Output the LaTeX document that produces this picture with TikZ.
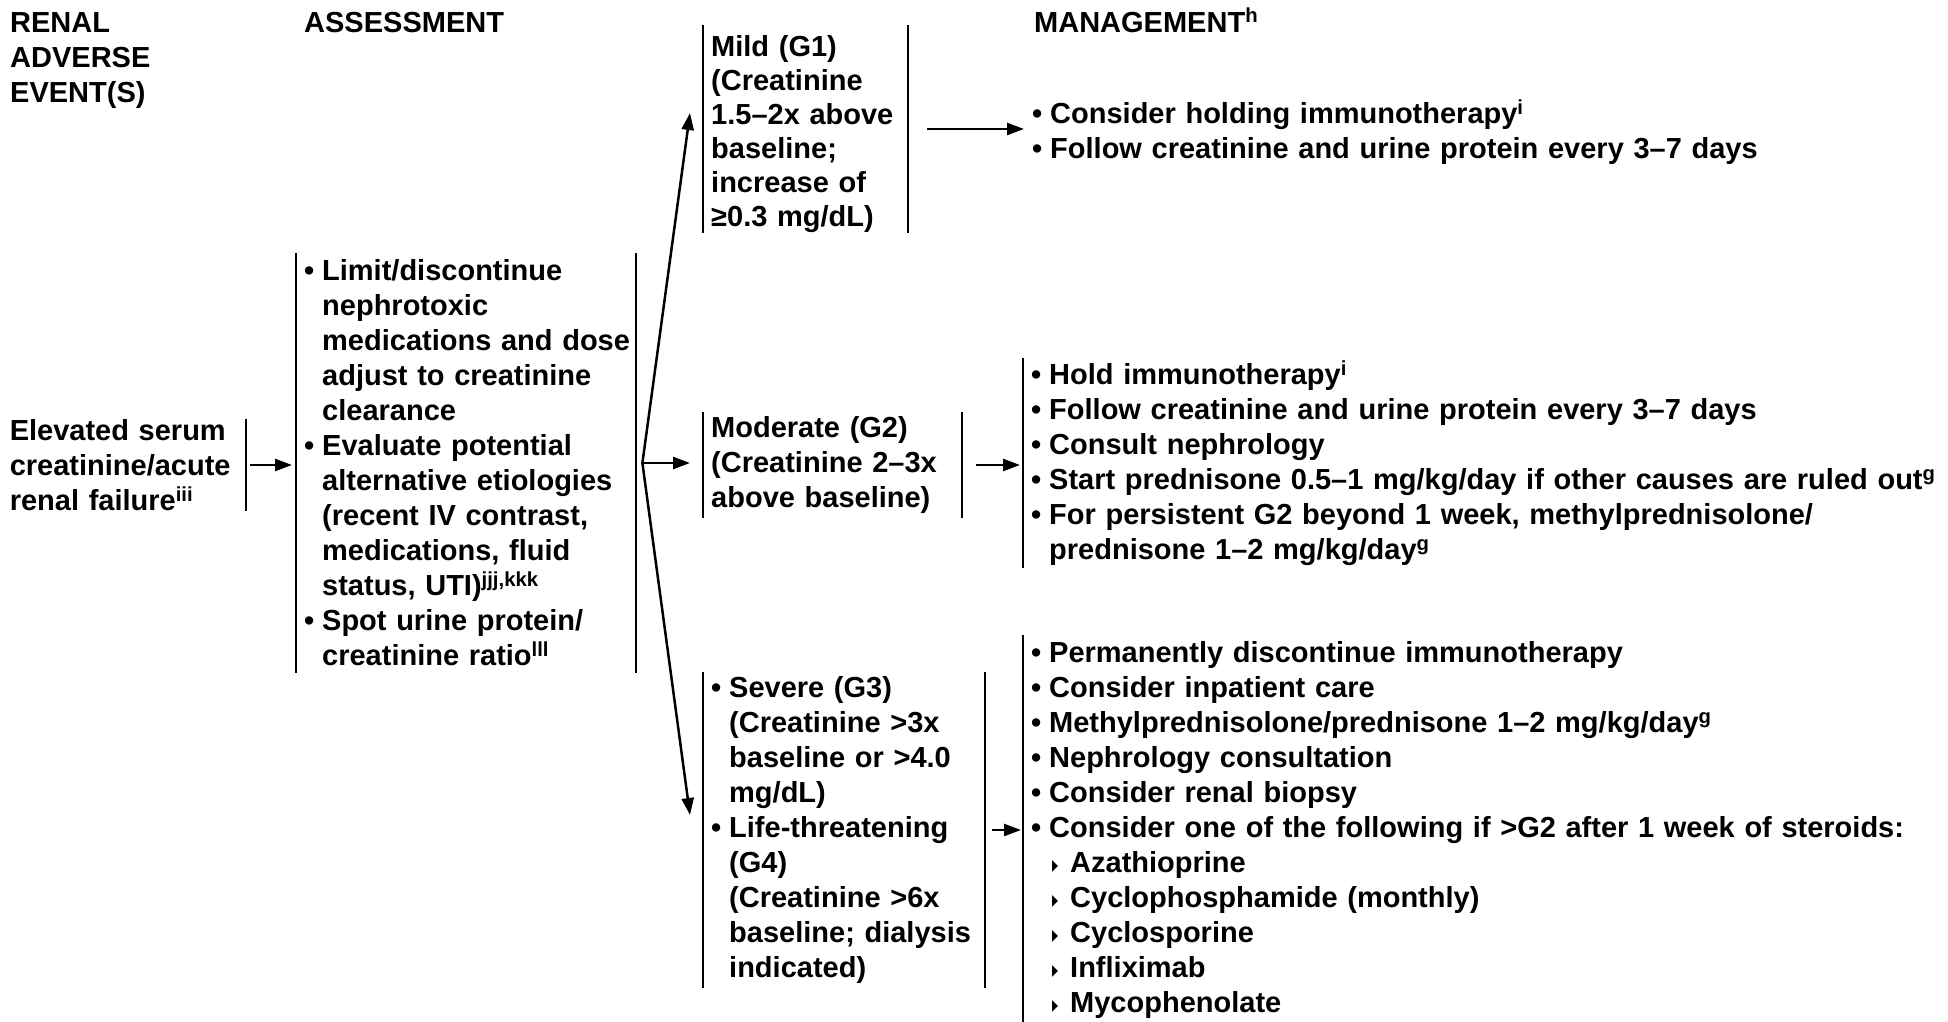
\documentclass[tikz,border=0pt]{standalone}
\usepackage{fontspec}
\usepackage{graphicx}
\setmainfont{Liberation Sans}
\newfontfamily\symfont{DejaVu Sans}
\usetikzlibrary{arrows.meta,positioning,calc}

\newcommand{\bul}{\makebox[18pt][l]{\textbullet}}
\newcommand{\hind}{\hspace*{18pt}}
\newcommand{\subbul}{\hspace*{21pt}\makebox[18pt][l]{\raisebox{2pt}{\resizebox{6pt}{10pt}{\symfont ▶}}}}

\begin{document}
\begin{tikzpicture}[x=1pt,y=-1pt,
    every node/.style={font=\fontsize{29}{35}\selectfont\bfseries},
    hdr/.style={anchor=base west, inner sep=0pt, align=left, text width=#1},
    box/.style={anchor=west, inner xsep=8pt, inner ysep=0pt, align=left},
    bar/.style={line width=2pt},
    arr/.style={line width=2.5pt, -{Triangle[length=17pt,width=12pt]}}]
    \useasboundingbox (0,0) rectangle (1948,1021);
    % column headers
    \node[hdr=200pt] (renalhdr) at (10,32) {RENAL\\ADVERSE\\EVENT(S)};
    \node[hdr=300pt] (asmthdr) at (304,32) {ASSESSMENT};
    \node[hdr=400pt] (mgmthdr) at (1034,32) {MANAGEMENT\textsuperscript{h}};
    % event and assessment
    \node[box, anchor=east, text width=228pt, minimum height=90pt] (elev) at (246,465)
        {Elevated serum\\creatinine/acute\\renal failure\textsuperscript{iii}};
    \node[box, text width=324pt, minimum height=420pt] (asmt) at (296,463) {%
        \bul Limit/discontinue\\
        \hind nephrotoxic\\
        \hind \mbox{medications and dose}\\
        \hind adjust to creatinine\\
        \hind clearance\\
        \bul Evaluate potential\\
        \hind alternative etiologies\\
        \hind (recent IV contrast,\\
        \hind medications, fluid\\
        \hind status, UTI)\textsuperscript{jjj,kkk}\\
        \bul Spot urine protein/\\
        \hind creatinine ratio\textsuperscript{lll}};
    % grades
    \node[box, text width=189pt, minimum height=208pt, font=\fontsize{29}{34}\selectfont\bfseries] (mild) at (703,129)
        {\rule{0pt}{31pt}Mild (G1)\\(Creatinine\\1.5–2x above\\baseline;\\increase of\\≥0.3 mg/dL)};
    \node[box, text width=243pt, minimum height=105pt] (mod) at (703,465)
        {Moderate (G2)\\(Creatinine 2–3x\\above baseline)};
    \node[box, text width=266pt, minimum height=316pt] (sev) at (703,830) {%
        \bul Severe (G3)\\
        \hind (Creatinine >3x\\
        \hind baseline or >4.0\\
        \hind mg/dL)\\
        \bul Life-threatening\\
        \hind (G4)\\
        \hind (Creatinine >6x\\
        \hind \mbox{baseline; dialysis}\\
        \hind indicated)};
    % management
    \node[box, text width=925pt] (mildmgmt) at (1024,132) {%
        \bul Consider holding immunotherapy\textsuperscript{i}\\
        \bul Follow creatinine and urine protein every 3–7 days};
    \node[box, text width=925pt, minimum height=210pt] (modmgmt) at (1023,463) {%
        \bul Hold immunotherapy\textsuperscript{i}\\
        \bul Follow creatinine and urine protein every 3–7 days\\
        \bul Consult nephrology\\
        \bul \mbox{Start prednisone 0.5–1 mg/kg/day if other causes are ruled out\textsuperscript{g}}\\
        \bul For persistent G2 beyond 1 week, methylprednisolone/\\
        \hind prednisone 1–2 mg/kg/day\textsuperscript{g}};
    \node[box, text width=925pt, minimum height=390pt] (sevmgmt) at (1023,830) {%
        \bul Permanently discontinue immunotherapy\\
        \bul Consider inpatient care\\
        \bul Methylprednisolone/prednisone 1–2 mg/kg/day\textsuperscript{g}\\
        \bul Nephrology consultation\\
        \bul Consider renal biopsy\\
        \bul Consider one of the following if >G2 after 1 week of steroids:\\
        \subbul Azathioprine\\
        \subbul Cyclophosphamide (monthly)\\
        \subbul Cyclosporine\\
        \subbul Infliximab\\
        \subbul Mycophenolate};
    % bars
    \draw[bar] (elev.north east) -- (elev.south east);
    \foreach \n in {asmt,mild,mod,sev}
        \draw[bar] (\n.north west) -- (\n.south west) (\n.north east) -- (\n.south east);
    \foreach \n in {modmgmt,sevmgmt}
        \draw[bar] (\n.north west) -- (\n.south west);
    % arrows
    \draw[arr, shorten <=4pt, shorten >=4pt] (elev.east) -- (elev.east -| asmt.west);
    \coordinate (fork) at ([xshift=6pt]asmt.east);
    \draw[arr] (fork) -- ([xshift=-13pt,yshift=16pt]mild.west);
    \draw[arr, shorten >=13pt] (fork) -- (fork -| mod.west);
    \draw[arr] (fork) -- ([xshift=-13pt,yshift=15pt]sev.west);
    \draw[arr, shorten <=19pt] (mild.east) -- (mild.east -| mildmgmt.west);
    \draw[arr, shorten <=14pt, shorten >=3pt] (mod.east) -- (mod.east -| modmgmt.west);
    \draw[arr, shorten <=7pt, shorten >=2pt] (sev.east) -- (sev.east -| sevmgmt.west);
\end{tikzpicture}
\end{document}
